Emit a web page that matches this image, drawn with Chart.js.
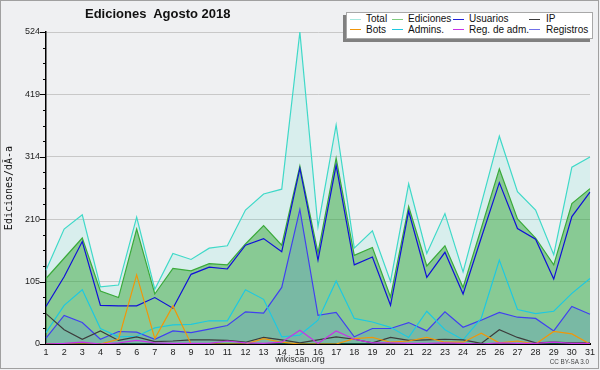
<!DOCTYPE html>
<html><head><meta charset="utf-8">
<script src="https://cdn.jsdelivr.net/npm/chart.js@4.4.1/dist/chart.umd.min.js"></script>
<style>
html,body{margin:0;padding:0;background:#eff0f2;}
#wrap{position:relative;width:600px;height:370px;overflow:hidden;background:#eff0f2;font-family:"Liberation Sans",Arial,sans-serif;}
#c{position:absolute;left:0;top:0;}
.frame{position:absolute;left:0;top:0;width:597px;height:367px;border:1px solid #a0a0a0;pointer-events:none;}
.title{position:absolute;left:85px;top:7px;font:bold 13px/13px "Liberation Sans",Arial,sans-serif;color:#111;white-space:pre;}
.lshadow{position:absolute;left:343px;top:15px;width:247px;height:27px;background:#808080;}
.lbox{position:absolute;left:346px;top:12px;width:245px;height:25px;background:#fff;border:1px solid #a8a8a8;}
.sw{position:absolute;width:11px;height:1.5px;}
.lt{position:absolute;font:10px/10px "Liberation Sans",Arial,sans-serif;color:#111;white-space:nowrap;}
.foot{position:absolute;left:200px;width:200px;top:355px;text-align:center;font:9px/9px "Liberation Sans",Arial,sans-serif;color:#333;}
.cc{position:absolute;right:11px;top:358px;font:6.3px/7px "Liberation Sans",Arial,sans-serif;color:#444;white-space:nowrap;}
</style></head>
<body>
<div id="wrap">
<canvas id="c" width="600" height="370"></canvas>
<div class="title">Ediciones  Agosto 2018</div>
<div class="lshadow"></div>
<div class="lbox"></div>
<div id="legend"></div>
<div class="foot">wikiscan.org</div>
<div class="cc">CC BY-SA 3.0</div>
<div class="frame"></div>
</div>
<script>
const days = ['1','2','3','4','5','6','7','8','9','10','11','12','13','14','15','16','17','18','19','20','21','22','23','24','25','26','27','28','29','30','31'];
const total     = [124,193,217,96,99,213,92,152,142,161,165,225,252,260,524,197,368,161,190,105,269,152,219,121,235,349,256,225,150,297,314];
const ediciones = [110,144,178,89,78,193,84,127,123,135,133,168,199,166,299,153,312,149,162,79,231,131,165,95,194,294,210,178,133,236,261];
const usuarios  = [63,113,172,65,64,64,78,60,117,129,126,166,177,155,295,141,300,133,146,65,223,112,154,84,178,271,194,176,109,214,255];
const ip        = [51,24,8,22,6,12,4,5,7,7,6,3,11,7,2,7,12,8,2,11,6,7,8,7,1,24,11,2,3,2,2];
const bots      = [0,0,0,0,8,116,9,64,0,0,0,0,9,3,0,0,0,9,11,3,5,11,3,3,18,2,5,0,21,17,0];
const admins    = [19,65,91,26,12,13,27,32,33,39,39,91,75,12,15,40,106,43,37,28,11,55,24,7,43,141,58,51,55,85,110];
const regAdm    = [0,1,3,0,2,6,2,1,1,1,5,2,1,3,23,1,22,8,2,2,1,1,2,1,0,2,1,1,3,1,1];
const registros = [10,48,36,8,21,20,8,22,19,25,31,54,52,95,226,48,53,12,26,26,36,22,54,28,40,53,45,43,22,63,50];
const yTickLabels = ['0','105','210','314','419','524'];
const yMax = 524;
const yMinorPerMajor = 4;

const series = [
  {name:'Total', data:total, color:'#3fd9c8', fill:'rgba(64,224,208,0.13)', legend:'#a6e8df', order:8},
  {name:'Ediciones', data:ediciones, color:'#3aaa3a', fill:'rgba(40,160,40,0.45)', legend:'#7fcc7f', order:7},
  {name:'Usuarios', data:usuarios, color:'#1010d8', fill:false, legend:'#2020d8', order:5},
  {name:'IP', data:ip, color:'#3c3c3c', fill:false, legend:'#3c3c3c', order:3},
  {name:'Bots', data:bots, color:'#f0960a', fill:false, legend:'#f0960a', order:2},
  {name:'Admins.', data:admins, color:'#1ec8e0', fill:false, legend:'#1ec8e0', order:4},
  {name:'Reg. de adm.', data:regAdm, color:'#c832e6', fill:false, legend:'#c832e6', order:1},
  {name:'Registros', data:registros, color:'#4040f0', fill:'rgba(60,120,230,0.2)', legend:'#7070e8', order:6}
];

// HTML legend
const legCols = [{sw:350, tx:366},{sw:392, tx:408},{sw:453, tx:469},{sw:529, tx:546}];
const legRows = [{sw:18.5, tx:14.3},{sw:28.5, tx:24.6}];
const legEl = document.getElementById('legend');
series.forEach((s,i)=>{
  const col = legCols[i%4], row = legRows[Math.floor(i/4)];
  const sw = document.createElement('div'); sw.className='sw';
  sw.style.left=col.sw+'px'; sw.style.top=row.sw+'px'; sw.style.background=s.legend;
  const t = document.createElement('div'); t.className='lt';
  t.style.left=col.tx+'px'; t.style.top=row.tx+'px'; t.textContent=s.name;
  legEl.appendChild(sw); legEl.appendChild(t);
});

const tickMarks = {
  id:'tickMarks',
  afterDraw(chart){
    const y = chart.scales.y, ctx = chart.ctx, left = chart.chartArea.left;
    ctx.save(); ctx.strokeStyle='#000'; ctx.lineWidth=1;
    y.ticks.forEach((t,i)=>{
      const py = Math.round(y.getPixelForValue(t.value))+0.5;
      const len = (i % yMinorPerMajor === 0) ? 6 : 3;
      ctx.beginPath(); ctx.moveTo(left-len,py); ctx.lineTo(left,py); ctx.stroke();
    });
    ctx.restore();
  }
};

new Chart(document.getElementById('c'), {
  type:'line',
  data:{
    labels:days,
    datasets:series.map(s=>({
      label:s.name, data:s.data, borderColor:s.color, borderWidth:1.2,
      backgroundColor:s.fill || 'rgba(0,0,0,0)', fill:s.fill ? 'origin' : false,
      pointRadius:0, tension:0, order:s.order
    }))
  },
  options:{
    responsive:false, animation:false, devicePixelRatio:1,
    layout:{padding:{top:32,right:10,left:0,bottom:0}},
    plugins:{legend:{display:false}, title:{display:false}, tooltip:{enabled:false},
      filler:{drawTime:'beforeDatasetsDraw'}},
    scales:{
      x:{
        type:'category', offset:false,
        grid:{display:false, drawTicks:false},
        border:{display:true, color:'#000', width:2},
        ticks:{font:{family:'Liberation Sans', size:9}, color:'#222', padding:3, maxRotation:0, autoSkip:false},
        afterFit(s){ s.height = 26; }
      },
      y:{
        min:0, max:yMax,
        afterBuildTicks(s){
          const n = (yTickLabels.length-1)*yMinorPerMajor;
          s.ticks = [];
          for(let i=0;i<=n;i++) s.ticks.push({value: yMax*i/n});
        },
        grid:{drawTicks:false, color:(c)=> (c.index % yMinorPerMajor === 0) ? '#c8c8c8' : 'rgba(0,0,0,0)', lineWidth:1},
        border:{display:true, color:'#000', width:1.5},
        ticks:{autoSkip:false, padding:6, font:{family:'Liberation Sans', size:9}, color:'#222',
          callback:(v,i)=> (i % yMinorPerMajor === 0) ? yTickLabels[i/yMinorPerMajor] : ''},
        title:{display:true, text:'Ediciones/dÃ-a', font:{family:'DejaVu Sans Mono', size:10}, color:'#111', padding:{top:3,bottom:0}},
        afterFit(s){ s.width = 46; }
      }
    }
  },
  plugins:[tickMarks]
});
</script>
</body></html>
